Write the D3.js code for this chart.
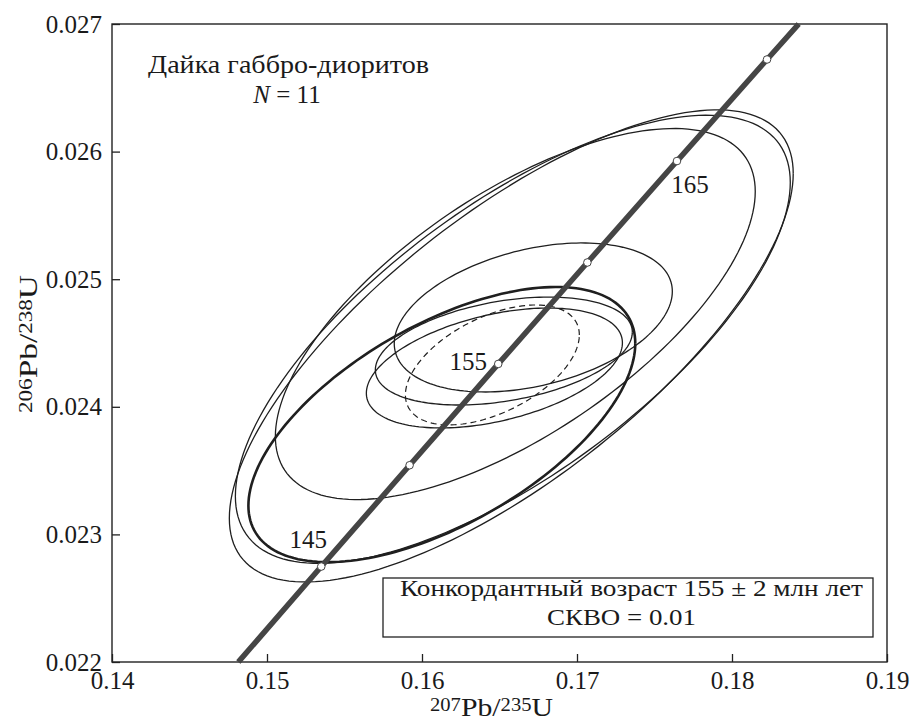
<!DOCTYPE html>
<html>
<head>
<meta charset="utf-8">
<script src="https://cdn.jsdelivr.net/npm/d3@7"></script>
<style>
  body { margin: 0; background: #fff; }
  text { font-family: "Liberation Serif", "Times New Roman", serif; fill: #1a1a1a; }
</style>
</head>
<body>
<div id="chart"></div>
<script>
// measured ellipses: centre, half-width (2 sigma), error correlation rho
var ellX    = [0.16576, 0.16586, 0.16602, 0.16128, 0.16718, 0.16528, 0.16467];
var ellSX   = [0.01819, 0.01790, 0.01548, 0.01248, 0.00897, 0.00829, 0.00826];
var ellY    = [0.024477, 0.024529, 0.024727, 0.023861, 0.024700, 0.024437, 0.024304];
var ellSY   = [0.001850, 0.001756, 0.001454, 0.001078, 0.000584, 0.000423, 0.000470];
var ellRho  = [0.73, 0.70, 0.66, 0.59, 0.35, 0.35, 0.42];
var ellBold = [false, false, false, true, false, false, false];

// concordia age ellipse (dashed)
var meanX = [0.16454], meanSX = [0.00561], meanY = [0.024328], meanSY = [0.000470], meanRho = [0.50];

// concordia curve, age marks every 5 Ma
var concAge = [145, 150, 155, 160, 165, 170];
var concX   = [0.15350, 0.15920, 0.16492, 0.17067, 0.17645, 0.18226];
var concY   = [0.022748, 0.023542, 0.024336, 0.025131, 0.025926, 0.026722];
var concEndX = [0.14815, 0.18430];
var concEndY = [0.0220, 0.0270];
var labelAges = [145, 155, 165];

var xTicks = [0.14, 0.15, 0.16, 0.17, 0.18, 0.19];
var yTicks = [0.022, 0.023, 0.024, 0.025, 0.026, 0.027];

var svgWidth = 910;
var svgHeight = 723;
var margin = { top: 24, right: 23, bottom: 61, left: 112 };
var chartWidth = svgWidth - margin.left - margin.right;
var chartHeight = svgHeight - margin.top - margin.bottom;

var svg = d3.select("#chart").append("svg")
  .attr("width", svgWidth)
  .attr("height", svgHeight);

var chartGroup = svg.append("g")
  .attr("transform", `translate(${margin.left}, ${margin.top})`);

var xScale = d3.scaleLinear().domain([0.14, 0.19]).range([0, chartWidth]);
var yScale = d3.scaleLinear().domain([0.022, 0.027]).range([chartHeight, 0]);

// axes with inward ticks
var xAxis = d3.axisBottom(xScale).tickValues(xTicks).tickFormat(d3.format(".2f"))
  .tickSizeInner(-8).tickSizeOuter(0).tickPadding(9);
var yAxis = d3.axisLeft(yScale).tickValues(yTicks).tickFormat(d3.format(".3f"))
  .tickSizeInner(-8).tickSizeOuter(0).tickPadding(10);

var gx = chartGroup.append("g")
  .attr("transform", `translate(0, ${chartHeight})`)
  .call(xAxis);
var gy = chartGroup.append("g").call(yAxis);

[gx, gy].forEach(function(g) {
  g.select(".domain").remove();
  g.selectAll(".tick line").attr("stroke", "#222").attr("stroke-width", 1.3);
  g.selectAll(".tick text")
    .style("font-family", '"Liberation Serif", serif')
    .style("font-size", "25px")
    .attr("fill", "#1a1a1a");
});

chartGroup.append("rect")
  .attr("width", chartWidth)
  .attr("height", chartHeight)
  .attr("fill", "none")
  .attr("stroke", "#222")
  .attr("stroke-width", 1.4);

// ellipse outline from centre, half-widths and rho
var angles = d3.range(0, 361, 2).map(d => d * Math.PI / 180);
function ellipsePath(cx, sx, cy, sy, rho) {
  var pts = angles.map(function(t) {
    return [cx + sx * Math.cos(t),
            cy + sy * (rho * Math.cos(t) + Math.sqrt(1 - rho * rho) * Math.sin(t))];
  });
  return d3.line().x(p => xScale(p[0])).y(p => yScale(p[1]))(pts);
}

chartGroup.append("g").selectAll("path")
  .data(ellX)
  .enter()
  .append("path")
  .attr("d", (d, i) => ellipsePath(ellX[i], ellSX[i], ellY[i], ellSY[i], ellRho[i]))
  .attr("fill", "none")
  .attr("stroke", "#1f1f1f")
  .attr("stroke-width", (d, i) => ellBold[i] ? 2.6 : 1.3);

chartGroup.append("path")
  .attr("d", ellipsePath(meanX[0], meanSX[0], meanY[0], meanSY[0], meanRho[0]))
  .attr("fill", "none")
  .attr("stroke", "#1f1f1f")
  .attr("stroke-width", 1.2)
  .attr("stroke-dasharray", "6,4");

// concordia
var concPts = [[concEndX[0], concEndY[0]]]
  .concat(concX.map((x, i) => [x, concY[i]]))
  .concat([[concEndX[1], concEndY[1]]]);

chartGroup.append("path")
  .attr("d", d3.line().x(p => xScale(p[0])).y(p => yScale(p[1])).curve(d3.curveMonotoneX)(concPts))
  .attr("fill", "none")
  .attr("stroke", "#454545")
  .attr("stroke-width", 5.5);

chartGroup.append("g").selectAll("circle")
  .data(concAge)
  .enter()
  .append("circle")
  .attr("cx", (d, i) => xScale(concX[i]))
  .attr("cy", (d, i) => yScale(concY[i]))
  .attr("r", 3.8)
  .attr("fill", "#fff")
  .attr("stroke", "#454545")
  .attr("stroke-width", 1);

// age labels next to marks
var labelOffset = { 145: [-13, -19], 155: [-30, 6], 165: [13, 32] };
chartGroup.append("g").selectAll("text")
  .data(labelAges)
  .enter()
  .append("text")
  .attr("x", d => xScale(concX[concAge.indexOf(d)]) + labelOffset[d][0])
  .attr("y", d => yScale(concY[concAge.indexOf(d)]) + labelOffset[d][1])
  .attr("text-anchor", "middle")
  .style("font-size", "25px")
  .text(d => d);

// sample caption
svg.append("text")
  .attr("x", 148).attr("y", 73)
  .attr("textLength", 281)
  .attr("lengthAdjust", "spacingAndGlyphs")
  .style("font-size", "25px")
  .text("Дайка габбро-диоритов");

var nText = svg.append("text")
  .attr("x", 287).attr("y", 103)
  .attr("text-anchor", "middle")
  .style("font-size", "25px");
nText.append("tspan").style("font-style", "italic").text("N");
nText.append("tspan").text(" = 11");

// result box
svg.append("rect")
  .attr("x", 383).attr("y", 578)
  .attr("width", 490).attr("height", 59)
  .attr("fill", "#fff")
  .attr("stroke", "#222")
  .attr("stroke-width", 1.3);

svg.append("text")
  .attr("x", 400).attr("y", 596)
  .attr("textLength", 463)
  .attr("lengthAdjust", "spacingAndGlyphs")
  .style("font-size", "24px")
  .text("Конкордантный возраст 155 ± 2 млн лет");

svg.append("text")
  .attr("x", 547).attr("y", 625)
  .attr("textLength", 149)
  .attr("lengthAdjust", "spacingAndGlyphs")
  .style("font-size", "24px")
  .text("СКВО = 0.01");

// axis titles
function isoLabel(sel, a, b) {
  sel.append("tspan").style("font-size", "18px").attr("dy", -5).text(a);
  sel.append("tspan").style("font-size", "26px").attr("dy", 5).text("Pb/");
  sel.append("tspan").style("font-size", "18px").attr("dy", -5).text(b);
  sel.append("tspan").style("font-size", "26px").attr("dy", 5).text("U");
}

var xLabel = svg.append("text")
  .attr("x", 430).attr("y", 716)
  .attr("textLength", 123)
  .attr("lengthAdjust", "spacingAndGlyphs");
isoLabel(xLabel, "207", "235");

var yLabel = svg.append("text")
  .attr("transform", "translate(37, 413) rotate(-90)")
  .attr("textLength", 138)
  .attr("lengthAdjust", "spacingAndGlyphs");
isoLabel(yLabel, "206", "238");
</script>
</body>
</html>
